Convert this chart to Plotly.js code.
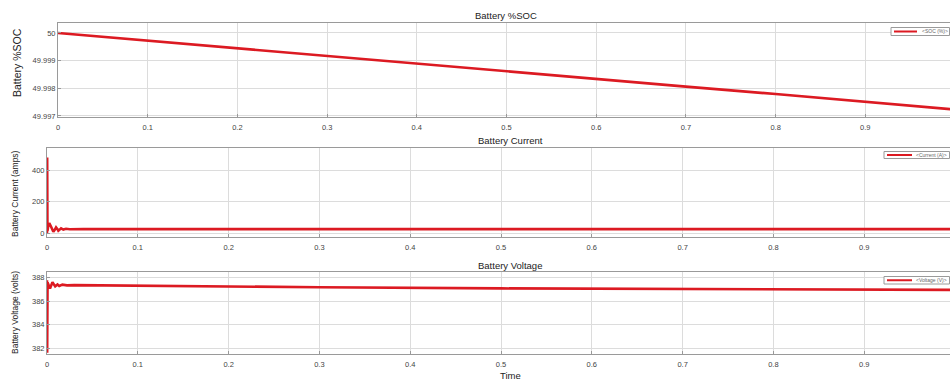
<!DOCTYPE html>
<html>
<head>
<meta charset="utf-8">
<script src="https://cdn.plot.ly/plotly-3.0.1.min.js"></script>
<style>html,body{margin:0;padding:0;background:#fff}#chart{width:950px;height:380px}</style>
</head>
<body>
<div id="chart"></div>
<script>
// ---- data ----
var socTime = [0, 0.1, 0.2, 0.3, 0.4, 0.5, 0.6, 0.7, 0.8, 0.9, 1.0];
var socValues = [50.0, 49.99972, 49.99945, 49.99917, 49.99889, 49.99862, 49.99834, 49.99806, 49.99779, 49.99751, 49.99723];

var curTime = [0, 0.0002, 0.0005, 0.0012, 0.0025, 0.0045, 0.007, 0.0085, 0.010, 0.0115, 0.0125, 0.014, 0.0155, 0.018, 0.021, 0.025, 0.03, 0.04, 0.1, 0.5, 1.0];
var curValues = [0, 480, 12, 40, 63, 40, 8, 20, 36, 25, 15, 22, 30, 22, 27, 24, 25, 25, 25, 25, 25];

var voltTime = [0, 0.0002, 0.0006, 0.0012, 0.0033, 0.006, 0.009, 0.0115, 0.0135, 0.017, 0.022, 0.03, 0.1, 0.3, 0.5, 0.7, 1.0];
var voltValues = [387.8, 381.6, 387.6, 387.5, 387.1, 387.62, 387.27, 387.44, 387.3, 387.42, 387.36, 387.38, 387.32, 387.2, 387.1, 387.03, 386.97];

var xTickVals = [0, 0.1, 0.2, 0.3, 0.4, 0.5, 0.6, 0.7, 0.8, 0.9];
var xTickText = ['0', '0.1', '0.2', '0.3', '0.4', '0.5', '0.6', '0.7', '0.8', '0.9'];
var socTickVals = [49.997, 49.998, 49.999, 50];
var socTickText = ['49.997', '49.998', '49.999', '50'];
var curTickVals = [0, 200, 400];
var curTickText = ['0', '200', '400'];
var voltTickVals = [382, 384, 386, 388];
var voltTickText = ['382', '384', '386', '388'];

var titles = ['Battery %SOC', 'Battery Current', 'Battery Voltage'];
var yTitles = ['Battery %SOC', 'Battery Current (amps)', 'Battery Voltage (volts)'];
var legendNames = ['&lt;SOC (%)&gt;', '&lt;Current (A)&gt;', '&lt;Voltage (V)&gt;'];
var xTitle = 'Time';

// ---- styling ----
var W = 950, H = 380;
var red = '#dc1a22';
var font = 'Liberation Sans, Arial, sans-serif';
function px(x) { return x / W; }
function py(y) { return 1 - y / H; }

var traces = [
  {x: socTime, y: socValues, xaxis: 'x', yaxis: 'y',
   name: legendNames[0], mode: 'lines', line: {color: red, width: 2.6}},
  {x: curTime, y: curValues, xaxis: 'x2', yaxis: 'y2',
   name: legendNames[1], mode: 'lines', line: {color: red, width: 2.6}},
  {x: voltTime, y: voltValues, xaxis: 'x3', yaxis: 'y3',
   name: legendNames[2], mode: 'lines', line: {color: red, width: 2.6}}
];

function xax(left, anchor) {
  var r = (W - left) / (955 - left);
  return {
    domain: [px(left), 1], range: [0, r], anchor: anchor,
    tickvals: xTickVals, ticktext: xTickText,
    ticks: 'inside', ticklen: 3, tickcolor: '#999',
    showgrid: true, gridcolor: '#dcdcdc', gridwidth: 1,
    showline: true, linecolor: '#9a9a9a', linewidth: 1, mirror: true,
    zeroline: false, tickfont: {family: font, size: 7.5, color: '#444'},
    ticklabelstandoff: 3,
    automargin: false, fixedrange: true
  };
}
function yax(top, bottom, range, tv, tt, anchor) {
  return {
    domain: [py(bottom), py(top)], range: range, anchor: anchor,
    tickvals: tv, ticktext: tt,
    ticks: 'inside', ticklen: 3, tickcolor: '#999',
    showgrid: true, gridcolor: '#dcdcdc', gridwidth: 1,
    showline: true, linecolor: '#9a9a9a', linewidth: 1, mirror: true,
    zeroline: false, tickfont: {family: font, size: 7.5, color: '#444'},
    automargin: false, fixedrange: true
  };
}

// legend boxes (drawn as decorations, in pixel positions)
var legendBoxes = [
  {x0: 891, y0: 27.5, y1: 35.5, lx0: 894, lx1: 917, tx: 920},
  {x0: 884, y0: 151.5, y1: 158.5, lx0: 887, lx1: 912, tx: 914},
  {x0: 884, y0: 276.5, y1: 284, lx0: 887, lx1: 912, tx: 914}
];
var shapes = [], annotations = [];
legendBoxes.forEach(function (b, i) {
  shapes.push({type: 'rect', xref: 'paper', yref: 'paper',
    x0: px(b.x0), x1: px(949.5), y0: py(b.y1), y1: py(b.y0),
    fillcolor: '#fff', line: {color: '#9a9a9a', width: 1}, layer: 'above'});
  var ym = py((b.y0 + b.y1) / 2);
  shapes.push({type: 'line', xref: 'paper', yref: 'paper',
    x0: px(b.lx0), x1: px(b.lx1), y0: ym, y1: ym,
    line: {color: red, width: 2}, layer: 'above'});
  annotations.push({text: legendNames[i], x: px(b.tx), y: ym, xref: 'paper', yref: 'paper',
    xanchor: 'left', yanchor: 'middle', showarrow: false,
    font: {family: font, size: 5, color: '#666'}});
});

var ttl = {family: font, size: 9.5, color: '#222'};
annotations.push(
  {text: titles[0], x: px(506), y: py(15.5), xref: 'paper', yref: 'paper', showarrow: false,
   xanchor: 'center', yanchor: 'middle', font: ttl},
  {text: titles[1], x: px(510), y: py(141), xref: 'paper', yref: 'paper', showarrow: false,
   xanchor: 'center', yanchor: 'middle', font: ttl},
  {text: titles[2], x: px(510), y: py(265.5), xref: 'paper', yref: 'paper', showarrow: false,
   xanchor: 'center', yanchor: 'middle', font: ttl},
  {text: yTitles[0], x: px(17), y: py(63), xref: 'paper', yref: 'paper', showarrow: false,
   xanchor: 'center', yanchor: 'middle', textangle: -90,
   font: {family: font, size: 10.5, color: '#222'}},
  {text: yTitles[1], x: px(15), y: py(194), xref: 'paper', yref: 'paper', showarrow: false,
   xanchor: 'center', yanchor: 'middle', textangle: -90,
   font: {family: font, size: 8.5, color: '#222'}},
  {text: yTitles[2], x: px(15), y: py(313), xref: 'paper', yref: 'paper', showarrow: false,
   xanchor: 'center', yanchor: 'middle', textangle: -90,
   font: {family: font, size: 8.5, color: '#222'}},
  {text: xTitle, x: px(510), y: py(375), xref: 'paper', yref: 'paper', showarrow: false,
   xanchor: 'center', yanchor: 'middle', font: ttl}
);

var layout = {
  width: W, height: H,
  margin: {l: 0, r: 0, t: 0, b: 0},
  paper_bgcolor: '#fff', plot_bgcolor: '#fff',
  font: {family: font},
  showlegend: false,
  xaxis: xax(58, 'y'),
  yaxis: yax(23, 117, [49.99696, 50.00036], socTickVals, socTickText, 'x'),
  xaxis2: xax(47, 'y2'),
  yaxis2: yax(148, 237, [-25, 540], curTickVals, curTickText, 'x2'),
  xaxis3: xax(47, 'y3'),
  yaxis3: yax(272, 354, [381.5, 388.5], voltTickVals, voltTickText, 'x3'),
  shapes: shapes,
  annotations: annotations
};

Plotly.newPlot('chart', traces, layout, {staticPlot: true, displayModeBar: false});
</script>
</body>
</html>
